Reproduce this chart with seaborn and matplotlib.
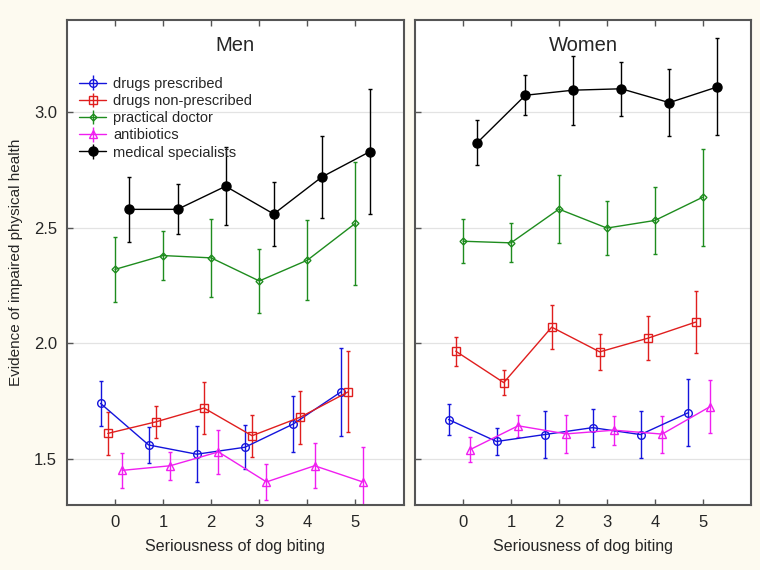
import numpy as np
import matplotlib.pyplot as plt
import seaborn as sns

severity = [0, 1, 2, 3, 4, 5]
series_names = ["drugs prescribed", "drugs non-prescribed", "practical doctor",
                "antibiotics", "medical specialists"]
panel_titles = ["Men", "Women"]

# Men: group means and error bar half-widths
men_prescribed = [1.74, 1.56, 1.52, 1.55, 1.65, 1.79]
men_prescribed_err = [0.097, 0.077, 0.12, 0.095, 0.12, 0.19]
men_nonprescribed = [1.61, 1.66, 1.72, 1.60, 1.68, 1.79]
men_nonprescribed_err = [0.093, 0.07, 0.112, 0.09, 0.114, 0.175]
men_doctor = [2.32, 2.38, 2.37, 2.27, 2.36, 2.52]
men_doctor_err = [0.139, 0.106, 0.168, 0.137, 0.173, 0.266]
men_antibiotics = [1.45, 1.47, 1.53, 1.40, 1.47, 1.40]
men_antibiotics_err = [0.077, 0.06, 0.094, 0.077, 0.097, 0.15]
men_specialists = [2.58, 2.58, 2.68, 2.56, 2.72, 2.83]
men_specialists_err = [0.14, 0.108, 0.168, 0.139, 0.176, 0.27]

# Women
women_prescribed = [1.67, 1.575, 1.605, 1.635, 1.605, 1.70]
women_prescribed_err = [0.068, 0.059, 0.103, 0.082, 0.10, 0.146]
women_nonprescribed = [1.966, 1.83, 2.07, 1.963, 2.022, 2.092]
women_nonprescribed_err = [0.063, 0.054, 0.095, 0.077, 0.095, 0.134]
women_doctor = [2.442, 2.435, 2.581, 2.499, 2.532, 2.633]
women_doctor_err = [0.096, 0.085, 0.146, 0.117, 0.145, 0.21]
women_antibiotics = [1.54, 1.643, 1.608, 1.624, 1.607, 1.726]
women_antibiotics_err = [0.054, 0.047, 0.081, 0.063, 0.08, 0.115]
women_specialists = [2.869, 3.074, 3.096, 3.102, 3.042, 3.11]
women_specialists_err = [0.097, 0.087, 0.15, 0.118, 0.146, 0.21]

men = [(men_prescribed, men_prescribed_err), (men_nonprescribed, men_nonprescribed_err),
       (men_doctor, men_doctor_err), (men_antibiotics, men_antibiotics_err),
       (men_specialists, men_specialists_err)]
women = [(women_prescribed, women_prescribed_err), (women_nonprescribed, women_nonprescribed_err),
         (women_doctor, women_doctor_err), (women_antibiotics, women_antibiotics_err),
         (women_specialists, women_specialists_err)]

# styling per series
colors = ["#1414DC", "#E01E1E", "#1E8C1E", "#F01EF0", "#000000"]
markers = ["o", "s", "D", "^", "o"]
msizes = [5.5, 5.5, 3.5, 5.5, 6.5]
filled = [False, False, False, False, True]
offsets = [-0.3, -0.15, 0.0, 0.15, 0.3]

sns.set_style("white")
plt.rcParams["font.family"] = ["Liberation Sans", "DejaVu Sans"]

bg = "#FDFAF0"
fig = plt.figure(figsize=(7.6, 5.7), dpi=100, facecolor=bg)
ax1 = fig.add_axes([0.088, 0.114, 0.443, 0.851])
ax2 = fig.add_axes([0.546, 0.114, 0.442, 0.851])

x = np.array(severity, dtype=float)

for ax, data, title in [(ax1, men, panel_titles[0]), (ax2, women, panel_titles[1])]:
    ax.set_facecolor("white")
    for i, (means, errs) in enumerate(data):
        c = colors[i]
        xs = x + offsets[i]
        ax.errorbar(xs, means, yerr=errs, fmt="none", ecolor=c, elinewidth=1.0,
                    capsize=1.7, capthick=1.0, zorder=2)
        sns.lineplot(x=xs, y=means, ax=ax, color=c, linewidth=1.0, marker=markers[i],
                     markersize=msizes[i], markeredgecolor=c, markeredgewidth=1.0,
                     markerfacecolor=c if filled[i] else "none", legend=False, zorder=3)
    ax.set_xlim(-1, 6)
    ax.set_ylim(1.3, 3.4)
    ax.set_xticks(severity)
    ax.set_yticks([1.5, 2.0, 2.5, 3.0])
    ax.yaxis.grid(True, color="#E3E3E3", linewidth=0.9)
    ax.set_axisbelow(True)
    ax.tick_params(direction="in", length=4, width=1, color="#555555",
                   top=True, bottom=True, left=True, right=False,
                   labelsize=12, pad=7)
    for s in ax.spines.values():
        s.set_color("#555555")
        s.set_linewidth(1.5)
    ax.text(0.5, 0.948, title, transform=ax.transAxes, ha="center", va="center", fontsize=14.5)
    ax.set_xlabel("Seriousness of dog biting", fontsize=11.5, labelpad=7)
    ax.set_ylabel("")

ax1.set_ylabel("Evidence of impaired physical health", fontsize=11, labelpad=8)
ax2.tick_params(labelleft=False)

# legend proxies drawn in errorbar style
handles = []
for i, name in enumerate(series_names):
    h = ax1.errorbar([], [], yerr=[], fmt="-", color=colors[i], marker=markers[i],
                     markersize=msizes[i], markeredgecolor=colors[i],
                     markerfacecolor=colors[i] if filled[i] else "none",
                     linewidth=1.0, elinewidth=1.0, capsize=9, capthick=1.0, label=name)
    handles.append(h)
ax1.legend(handles=handles, loc="upper left", bbox_to_anchor=(0.02, 0.895),
           frameon=False, fontsize=10.5, handlelength=1.8, handletextpad=0.5,
           labelspacing=0.22, borderaxespad=0)

fig.savefig("out.png", dpi=100, facecolor=bg)
